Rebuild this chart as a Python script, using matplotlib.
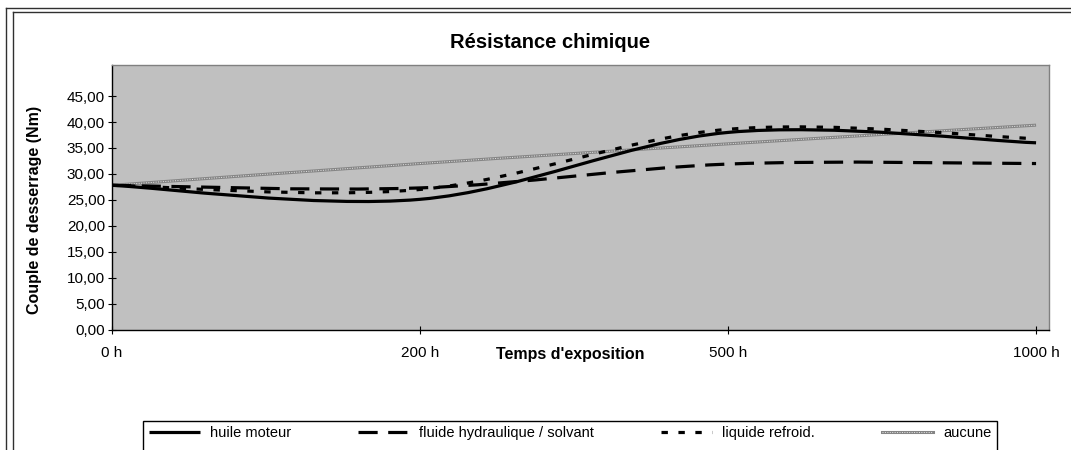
import numpy as np
import matplotlib.pyplot as plt
from matplotlib.path import Path
from matplotlib.patches import PathPatch, Rectangle
from matplotlib.lines import Line2D

plt.rcParams['font.family'] = ['Liberation Sans', 'DejaVu Sans']

# data (Nm)
hours = ['0 h', '200 h', '500 h', '1000 h']
huile_moteur = [27.8, 25.1, 38.0, 36.0]
fluide_hydraulique = [27.8, 27.3, 31.9, 32.0]
liquide_refroid = [27.8, 27.0, 38.6, 36.8]
aucune = [27.8, 32.0, 35.8, 39.4]
y_ticks = [0, 5, 10, 15, 20, 25, 30, 35, 40, 45]


def smooth_path(xs, ys):
    # Excel style smoothed line: cubic bezier through every point
    pts = np.column_stack([xs, ys]).astype(float)
    n = len(pts)
    verts = [pts[0]]
    codes = [Path.MOVETO]
    for i in range(n - 1):
        p0 = pts[max(i - 1, 0)]
        p1 = pts[i]
        p2 = pts[i + 1]
        p3 = pts[min(i + 2, n - 1)]
        c1 = p1 + (p2 - p0) / 6
        c2 = p2 - (p3 - p1) / 6
        verts += [c1, c2, p2]
        codes += [Path.CURVE4] * 3
    return Path(verts, codes)


fig = plt.figure(figsize=(10.71, 4.5), dpi=100)
ax = fig.add_axes([112 / 1071, 120.5 / 450, 937 / 1071, 264.5 / 450])
ax.set_facecolor('#c0c0c0')

x = np.arange(len(hours))
styles = [
    (huile_moteur, 'huile moteur', dict(color='black', lw=2.3, ls='-')),
    (fluide_hydraulique, 'fluide hydraulique / solvant', dict(color='black', lw=2.3, ls=(0, (6, 3.3)))),
    (liquide_refroid, 'liquide refroid.', dict(color='black', lw=2.3, ls=(0, (2, 3.3)))),
]
handles = []
for vals, name, st in styles:
    ax.add_patch(PathPatch(smooth_path(x, vals), fill=False, edgecolor=st['color'],
                           lw=st['lw'], ls=st['ls'], capstyle='butt', zorder=3))
    handles.append(Line2D([], [], color=st['color'], lw=st['lw'], ls=st['ls'],
                          solid_capstyle='butt', dash_capstyle='butt', label=name))

# "aucune": grey line with light dotted texture
ax.add_patch(PathPatch(smooth_path(x, aucune), fill=False, edgecolor='#858585', lw=2.2, zorder=2))
ax.add_patch(PathPatch(smooth_path(x, aucune), fill=False, edgecolor='#e8e8e8', lw=0.7,
                       ls=(0, (1, 1.5)), zorder=2))
h_gray = (Line2D([], [], color='#858585', lw=2.2),
          Line2D([], [], color='#e8e8e8', lw=0.7, ls=(0, (1, 1.5))))
handles.append(h_gray)
labels = [s[1] for s in styles] + ['aucune']

ax.set_xlim(0, 3.042)
ax.set_ylim(0, 51)
ax.set_xticks(x)
ax.set_xticklabels(hours)
ax.set_yticks(y_ticks)
ax.set_yticklabels([f'{v:.2f}'.replace('.', ',') for v in y_ticks])
ax.tick_params(axis='x', direction='inout', length=6, width=0.8, pad=9, labelsize=11)
ax.tick_params(axis='y', direction='inout', length=6, width=0.8, pad=2, labelsize=11)
for s in ['left', 'bottom']:
    ax.spines[s].set_color('black')
    ax.spines[s].set_linewidth(1)
for s in ['top', 'right']:
    ax.spines[s].set_color('#808080')
    ax.spines[s].set_linewidth(1)

fig.text(550 / 1071, 1 - 43 / 450, 'Résistance chimique', ha='center', va='center',
         fontsize=14.5, fontweight='bold')
fig.text(35 / 1071, 1 - 210 / 450, 'Couple de desserrage (Nm)', ha='center', va='center',
         rotation=90, fontsize=11.5, fontweight='bold')
fig.text(570 / 1071, 1 - 355 / 450, "Temps d'exposition", ha='center', va='center',
         fontsize=11.5, fontweight='bold')

fig.legend(handles, labels, loc='center', bbox_to_anchor=(143 / 1071, 1 - 433 / 450, 854 / 1071, 0),
           mode='expand', borderaxespad=0, ncol=4, frameon=False, fontsize=10.5,
           handlelength=3.5, handletextpad=0.7)
fig.add_artist(Rectangle((143 / 1071, -0.05), 854 / 1071, 0.05 + 29 / 450,
                         transform=fig.transFigure, fill=False, edgecolor='black', lw=1))

# chart area border
for xs, ys in [([6, 6], [450, 8]), ([6, 1071], [8, 8]), ([13, 13], [450, 12]), ([13, 1071], [12, 12])]:
    fig.add_artist(Line2D(np.array(xs) / 1071, 1 - np.array(ys) / 450,
                          transform=fig.transFigure, color='#303030', lw=1))

fig.savefig('out.png', dpi=100)
